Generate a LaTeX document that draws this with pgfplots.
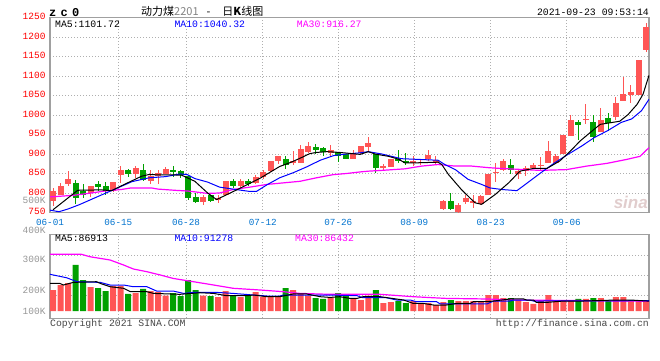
\documentclass[border=0pt]{standalone}
\usepackage{pgfplots}
\pgfplotsset{compat=1.18}
\usepackage{pgfplotstable}
\usepackage{fontspec}
\setmainfont{Liberation Sans}
\setmonofont{Liberation Mono}
\newfontfamily\cjk{Noto Sans CJK SC}
\newfontfamily\zcfont{Liberation Mono}[LetterSpace=35]
\newcommand\px[1]{\fontsize{#1}{#1}\selectfont}
\definecolor{cred}{RGB}{255,85,85}
\definecolor{cgreen}{RGB}{0,160,0}
\definecolor{maten}{RGB}{0,0,255}
\definecolor{mathirty}{RGB}{255,0,255}
\definecolor{tickred}{RGB}{255,0,0}
\definecolor{dateblue}{RGB}{0,114,206}
\definecolor{framec}{RGB}{160,160,160}
\definecolor{gridc}{RGB}{175,175,175}
\definecolor{volgray}{RGB}{150,150,150}
\definecolor{copyc}{RGB}{70,70,70}
\definecolor{titlegray}{RGB}{130,130,130}
\definecolor{wmark}{RGB}{225,205,205}

% price candles: x open high low close
\pgfplotstableread{
x o h l c
0 779 812 766 805
1 796 826 796 817
2 824 856 817 835
5 799 819 790 819
8 806 829 803 828
9 846 869 826 859
11 848 870 839 863
13 832 858 822 843
14 843 860 823 851
15 850 866 850 862
20 777 795 768 791
22 782 794 775 788
23 794 832 792 830
25 817 835 809 830
27 826 847 822 842
28 842 860 836 855
29 856 883 853 883
30 881 896 875 896
32 876 907 873 882
33 877 923 877 914
34 906 930 903 920
37 903 924 896 910
40 888 909 888 903
41 903 920 899 920
42 917 943 907 929
44 864 875 860 869
45 866 888 866 888
48 877 894 869 882
49 877 888 873 880
50 886 910 882 897
51 876 896 873 884
52 759 783 756 779
54 751 775 750 770
55 778 796 772 786
56 776 796 762 780
57 773 794 770 792
58 794 850 794 850
59 852 877 827 855
60 859 888 856 881
62 848 860 835 856
63 856 869 843 864
64 864 876 863 871
65 870 892 860 872
66 876 933 876 907
67 877 900 875 896
68 900 950 900 950
69 947 999 947 986
71 986 1027 976 991
73 957 1017 957 988
75 995 1047 986 1030
76 1036 1097 1036 1053
77 1051 1076 1031 1059
78 1051 1142 1051 1142
79 1166 1235 1161 1226
}\redk
\pgfplotstableread{
x o h l c
3 826 834 771 787
4 806 823 787 796
6 822 832 806 815
7 817 827 796 804
10 860 862 841 848
12 858 874 830 833
16 858 869 841 853
17 856 858 839 845
18 844 847 783 787
19 789 799 775 776
21 794 794 778 779
24 832 835 813 817
26 832 835 819 822
31 888 894 862 871
35 918 926 900 909
36 915 917 896 906
38 906 906 880 894
39 900 900 886 888
43 899 900 852 865
46 888 909 877 882
47 883 903 873 877
53 779 799 756 758
61 873 888 849 859
70 982 986 937 974
72 982 999 931 943
74 992 1006 959 980
}\greenk

\pgfplotstableread{
x y
0 757
3.3 807
6.4 808
7.8 806
9.5 822
11.8 843
12.7 847
17.1 846
18.9 830
20.6 800
21.8 783
22.2 787
24.9 812
27.6 838
30.2 868
31.6 878
32.9 889
34.2 901
35.1 904
36.5 906
38.2 904
40.9 899
42 906
42.9 900
44.7 894
46 887
46.9 877
47.8 877
51.3 879
51.8 873
52.7 847
54.4 809
56.2 775
57.1 771
58.9 796
60.7 826
62.2 856
64 863
65.8 863
67.5 882
68.9 907
70.2 933
71.5 954
72.9 976
74.2 980
75.5 984
76.6 1001
77.8 1027
78.6 1053
79.4 1101.7
}\mafive
\pgfplotstableread{
x y
-0.4 756
0.8 752
2 759
3.5 770
6.1 792
8.5 812
10.5 829
12.8 839
15 842
17 849
17.9 847
18.9 837
20.6 828
22.2 815
24 810
26.2 804
27.1 804
28.5 821
30.2 839
32 852
33.8 867
35.6 884
37.4 896
39.1 900
40.9 903
42 906
43.8 900
46.4 888
51.3 884
52.2 873
53.6 860
55.3 835
57.1 822
58.2 813
59.8 809
61.8 806
63.2 826
65 852
66.8 877
68.6 899
70.4 920
72.1 942
73.9 960
75.7 981
77.1 990
78.4 1011
79.4 1040.3
}\maten
\pgfplotstableread{
x y
-0.4 790
2.7 794
4.7 799
6.9 805
9.1 809
10.4 813
13.1 813
14 810
16.2 807
18 805
20.6 799
22.2 800
24 809
26.2 815
28.5 822
30.7 826
32.9 830
35.1 839
37.3 847
39.1 850
40.9 854
42 856
43.8 858
46.9 862
49.1 869
51.3 873
53.6 869
55.8 869
58 865
59.6 863
64.9 858
68.4 860
71.1 869
73.8 876
76.4 886
78.2 894
79.4 916.3
}\mathirty

% volume (thousands)
\pgfplotstableread{
x v
0 185
1 229
2 246
5 211
8 220
9 220
11 158
13 176
14 167
15 135
20 135
22 123
23 176
25 123
27 167
28 123
29 123
30 123
32 185
33 150
34 135
37 123
40 106
41 97
42 135
44 70
45 79
48 88
49 70
50 70
51 53
52 79
54 88
55 88
56 88
57 88
58 141
59 141
60 114
62 97
63 79
64 62
65 88
66 141
67 88
68 88
69 88
71 106
73 114
75 123
76 123
77 88
78 88
79 88
}\redv
\pgfplotstableread{
x v
3 405
4 273
6 202
7 176
10 150
12 194
16 158
17 132
18 273
19 185
21 132
24 132
26 132
31 202
35 114
36 106
38 158
39 132
43 185
46 88
47 70
53 97
61 114
70 106
72 114
74 88
}\greenv
\pgfplotstableread{
x y
-0.4 243
0.9 243
1.4 229
2.7 252
5.8 258
6.3 243
7.6 214
9.4 200
10.3 170
12.5 170
13.4 155
16.9 147
19.6 161
21.4 155
23.1 135
25.8 135
26.7 141
28.5 126
30.2 126
32 150
33.8 150
35.6 126
36.9 120
38.2 126
39.6 111
40.5 111
41.3 126
43.6 126
46.7 97
48 67
49.3 67
50.7 53
52.4 53
53.8 67
55.6 67
56 82
57.8 82
58.7 88
60.9 106
62.7 106
63.1 97
64 97
64.4 76
65.8 76
68 88
70.6 88
75.1 97
76.9 97
79.4 87
}\vmafive
\pgfplotstableread{
x y
-0.4 323
1.8 293
3.2 258
6.3 252
7.6 229
9.4 229
10.7 214
12.5 214
13.8 176
16 176
17.4 155
18.7 164
21.8 164
24 155
26.7 141
28.5 132
30.2 132
30.7 141
36.9 141
40.5 135
41.3 117
44.4 117
45.8 97
47.6 97
48.4 82
51.1 82
51.6 62
57.8 62
58.7 88
60.9 88
61.3 97
63.5 97
64 88
79.4 91
}\vmaten
\pgfplotstableread{
x y
-0.4 499
3.8 499
4.9 478
7.6 449
9.4 405
10.7 370
12.5 346
14.3 317
16 287
18.7 258
21.4 229
24 200
27.6 185
30.7 170
32.9 155
36.9 147
43.6 147
48 126
52.4 111
57.8 106
61.8 97
79.4 86
}\vmathirty

\pgfplotsset{
  sinabase/.style={
    anchor=south west, scale only axis, width=599pt,
    xmin=-0.4, xmax=79.4,
    axis line style={draw=framec, line width=1.3pt},
    major tick length=0pt,
    major grid style={draw=gridc, line width=0.8pt, dash pattern=on 1pt off 2pt},
    /pgf/number format/assume math mode=true,
    /pgf/number format/1000 sep={},
  },
}

\begin{document}
\begin{tikzpicture}
\path[use as bounding box] (0pt,0pt) rectangle (660pt,360pt);

% ---------------- price panel ----------------
\begin{axis}[sinabase,
  at={(50pt,147.5pt)}, height=195pt,
  ymin=750, ymax=1250,
  ytick={750,800,...,1250},
  xtick={-0.4,8.70,17.72,27.94,38.01,48.13,58.31,68.44},
  xticklabels={06-01,06-15,06-28,07-12,07-26,08-09,08-23,09-06},
  grid=major,
  yticklabel style={font=\ttfamily\px{9.5}, text=tickred, anchor=east, inner sep=0pt, xshift=-4.3pt, yshift=1pt},
  xticklabel style={font=\ttfamily\px{9.3}, text=dateblue, anchor=base, inner sep=0pt, yshift=-12.5pt},
]
\addplot[draw=none, mark=none, forget plot,
  error bars/.cd, y dir=both, y explicit, error mark=none,
  error bar style={line width=1pt, draw=cred, solid}]
  table[x=x, y expr={(\thisrow{h}+\thisrow{l})/2}, y error expr={(\thisrow{h}-\thisrow{l})/2}] {\redk};
\addplot[draw=none, mark=none, forget plot,
  error bars/.cd, y dir=both, y explicit, error mark=none,
  error bar style={line width=6pt, draw=cred, solid}]
  table[x=x, y expr={(\thisrow{o}+\thisrow{c})/2}, y error expr={max(abs(\thisrow{c}-\thisrow{o})/2,1.3)}] {\redk};
\addplot[draw=none, mark=none, forget plot,
  error bars/.cd, y dir=both, y explicit, error mark=none,
  error bar style={line width=1pt, draw=cgreen, solid}]
  table[x=x, y expr={(\thisrow{h}+\thisrow{l})/2}, y error expr={(\thisrow{h}-\thisrow{l})/2}] {\greenk};
\addplot[draw=none, mark=none, forget plot,
  error bars/.cd, y dir=both, y explicit, error mark=none,
  error bar style={line width=6pt, draw=cgreen, solid}]
  table[x=x, y expr={(\thisrow{o}+\thisrow{c})/2}, y error expr={max(abs(\thisrow{c}-\thisrow{o})/2,1.3)}] {\greenk};
\addplot[mathirty, line width=1.2pt, mark=none] table[x=x,y=y] {\mathirty};
\addplot[maten, line width=1pt, mark=none] table[x=x,y=y] {\maten};
\addplot[black, line width=1pt, mark=none] table[x=x,y=y] {\mafive};
\end{axis}

% ---------------- volume panel ----------------
\begin{axis}[sinabase,
  at={(50pt,41.7pt)}, height=84pt,
  ymin=-64, ymax=675, clip=false,
  xtick={8.70,17.72,27.94,38.01,48.13,58.31,68.44},
  xticklabels={}, xmajorgrids=true,
  ytick={0,178,455}, yticklabels={100K,200K,300K},
  extra y ticks={135,311,493}, extra y tick labels={},
  extra y tick style={ymajorgrids=true},
  yticklabel style={font=\ttfamily\px{9.5}, text=volgray, anchor=east, inner sep=0pt, xshift=-4.3pt},
]
\addplot[ybar, bar width=6pt, bar shift=0pt, fill=cred, draw=none] table[x=x,y=v] {\redv};
\addplot[ybar, bar width=6pt, bar shift=0pt, fill=cgreen, draw=none] table[x=x,y=v] {\greenv};
\addplot[mathirty, line width=1.2pt, mark=none] table[x=x,y=y] {\vmathirty};
\addplot[maten, line width=1pt, mark=none] table[x=x,y=y] {\vmaten};
\addplot[black, line width=1pt, mark=none] table[x=x,y=y] {\vmafive};
\node[anchor=east, inner sep=0pt, xshift=-4.3pt, font=\ttfamily\px{9.5}, text=volgray] at (axis cs:-0.4,707) {400K};
\node[anchor=east, inner sep=0pt, xshift=-4.3pt, font=\ttfamily\px{9.5}, text=volgray] at (axis cs:-0.4,977) {500K};
\end{axis}

% ---------------- texts ----------------
\node[anchor=base west, inner sep=0pt] at (49pt,344pt) {\zcfont\bfseries\px{12}zc0};
\node[anchor=base west, inner sep=0pt] at (141pt,345pt) {\cjk\px{11}动力煤{\color{titlegray}2201}\hspace{8pt}-\hspace{12pt}日\textbf{K}线图};
\node[anchor=base east, inner sep=0pt] at (649pt,345pt) {\ttfamily\px{9.8}2021-09-23 09:53:14};

\node[anchor=base west, inner sep=0pt] at (55pt,332.7pt) {\ttfamily\px{9.8}MA5:1101.72};
\node[anchor=base west, inner sep=0pt, text=maten] at (174.3pt,332.7pt) {\ttfamily\px{9.8}MA10:1040.32};
\node[anchor=base west, inner sep=0pt, text=mathirty] at (296.7pt,332.7pt) {\ttfamily\px{9.8}MA30:916.27};

\node[anchor=base west, inner sep=0pt] at (55pt,118.3pt) {\ttfamily\px{9.8}MA5:86913};
\node[anchor=base west, inner sep=0pt, text=maten] at (174.3pt,118.3pt) {\ttfamily\px{9.8}MA10:91278};
\node[anchor=base west, inner sep=0pt, text=mathirty] at (295pt,118.3pt) {\ttfamily\px{9.8}MA30:86432};

\node[anchor=base west, inner sep=0pt, text=copyc] at (50pt,33.3pt) {\ttfamily\px{9.8}Copyright 2021 SINA.COM};
\node[anchor=base east, inner sep=0pt, text=copyc] at (649pt,33.3pt) {\ttfamily\px{9.8}http://finance.sina.com.cn};

\node[anchor=base east, inner sep=0pt, text=wmark] at (648pt,152pt) {\bfseries\itshape\px{17}sina};
\end{tikzpicture}
\end{document}
